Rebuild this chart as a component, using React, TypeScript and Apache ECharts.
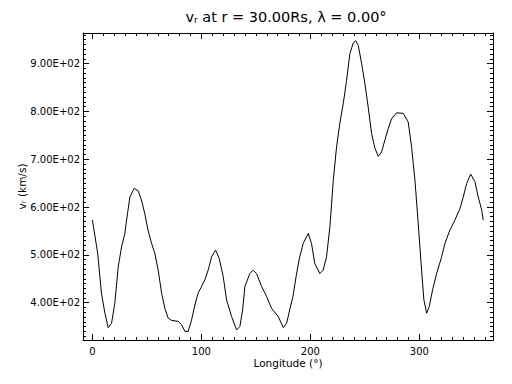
import React, { useEffect, useRef } from "react";
import * as echarts from "echarts";

// Longitude (deg) and radial speed v_r (km/s)
const longitude = [
  0, 4.9, 8.3, 11.5, 14.5, 17.6, 20.6, 23.7, 26.8, 29.8, 31.4, 34.4, 38.3, 42, 45, 48, 51, 54.3, 57.3,
  60.4, 63.5, 66.5, 69.5, 72.6, 78.7, 81.8, 84.9, 87.9, 91, 94, 97, 100.2, 103.2, 106.2, 109.4, 113,
  116.3, 120, 123.1, 127.7, 132.3, 135.3, 137.8, 139.9, 144.5, 147.5, 150.6, 155.2, 159.8, 164.4,
  170.5, 175.1, 178.2, 181.5, 184, 186.9, 190, 193.4, 198, 201, 204, 208.7, 211.7, 214.8, 217.9, 221,
  224, 227, 230.1, 233.2, 236.2, 239.3, 241.5, 243.9, 247, 250, 253, 256.1, 259.2, 262.2, 265.3,
  268.3, 271.4, 274.5, 279, 285.1, 289.7, 292.8, 295.9, 298.9, 302, 304.1, 306.6, 309, 312.1, 315.8,
  320.4, 323.4, 328, 332.6, 337.2, 340.2, 343.3, 347, 350.9, 354, 357.1, 358.5,
];
const vr = [
  573, 503, 420, 378, 348, 357, 399, 475, 517, 545, 573, 621, 639, 634, 615, 587, 552, 524, 503,
  468, 420, 388, 368, 363, 361, 354, 340, 340, 364, 395, 420, 434, 448, 468, 496, 510,
  493, 455, 406, 371, 343, 350, 385, 434, 461, 468, 461, 434, 413, 388,
  371, 348, 357, 390, 413, 455, 494, 524, 545, 524, 482, 461, 468, 496, 559, 656,
  726, 775, 816, 865, 921, 943, 948, 938, 900, 858, 809, 754, 723, 706, 715,
  740, 764, 785, 797, 796, 778, 726, 656, 566, 468, 406, 378, 392, 427, 461,
  496, 524, 552, 573, 597, 621, 649, 669, 653, 621, 594, 573,
];

const xMajorTicks = [0, 100, 200, 300];
const yMajorTicks = [400, 500, 600, 700, 800, 900];

const X_MIN = -8.6;
const X_MAX = 367.5;
const Y_MIN = 322;
const Y_MAX = 964;

const xMinorTicks: number[] = [];
for (let v = 0; v <= 360; v += 10) xMinorTicks.push(v);
const yMinorTicks: number[] = [];
for (let v = 330; v <= 960; v += 10) yMinorTicks.push(v);

const FONT = "DejaVu Sans";

function expFormat(v: number): string {
  const [m, e] = v.toExponential(2).split("e");
  const n = parseInt(e, 10);
  return m + "E" + (n < 0 ? "-" : "+") + String(Math.abs(n)).padStart(2, "0");
}

const lineStyle = { color: "#000", width: 1 };

function xAxis(position: "bottom" | "top", major: boolean, extra: any = {}) {
  return {
    type: "value",
    position,
    min: X_MIN,
    max: X_MAX,
    splitLine: { show: false },
    axisLine: { show: major, onZero: false, lineStyle },
    axisTick: {
      show: true,
      inside: true,
      length: major ? 6 : 3,
      customValues: major ? xMajorTicks : xMinorTicks,
      lineStyle,
    },
    axisLabel: { show: false },
    ...extra,
  };
}

function yAxis(position: "left" | "right", major: boolean, extra: any = {}) {
  return {
    type: "value",
    position,
    min: Y_MIN,
    max: Y_MAX,
    splitLine: { show: false },
    axisLine: { show: major, onZero: false, lineStyle },
    axisTick: {
      show: true,
      inside: true,
      length: major ? 6 : 3,
      customValues: major ? yMajorTicks : yMinorTicks,
      lineStyle,
    },
    axisLabel: { show: false },
    ...extra,
  };
}

export default function App() {
  const ref = useRef<HTMLDivElement>(null);
  useEffect(() => {
    document.body.style.margin = "0";
    const chart = echarts.init(ref.current!, undefined, { renderer: "svg" });
    const data = longitude.map((x, i) => [x, vr[i]]);
    chart.setOption({
      animation: false,
      backgroundColor: "#fff",
      textStyle: { fontFamily: FONT },
      grid: { left: 83, right: 19, top: 33, bottom: 44, containLabel: false, outerBoundsMode: "none" },
      graphic: [
        {
          type: "text",
          x: 286,
          y: 9,
          style: {
            text: "v{sub|r} at r = 30.00Rs, λ = 0.00°",
            fontFamily: FONT,
            fontSize: 14.5,
            fill: "#000",
            align: "center",
            textAlign: "center",
            verticalAlign: "top",
            textVerticalAlign: "top",
            rich: {
              sub: { fontSize: 9, fontFamily: FONT, fill: "#000", verticalAlign: "bottom" },
            },
          },
        },
      ],
      xAxis: [
        xAxis("bottom", true, {
          axisLabel: {
            show: true,
            customValues: xMajorTicks,
            color: "#000",
            fontSize: 10,
            fontFamily: FONT,
            margin: 6,
          },
          name: "Longitude (°)",
          nameLocation: "middle",
          nameGap: 17,
          nameMoveOverlap: false,
          nameTextStyle: { color: "#000", fontSize: 10.5, fontFamily: FONT },
        }),
        xAxis("bottom", false),
        xAxis("top", true),
        xAxis("top", false),
      ],
      yAxis: [
        yAxis("left", true, {
          axisLabel: {
            show: true,
            customValues: yMajorTicks,
            color: "#000",
            fontSize: 10,
            fontFamily: FONT,
            margin: 3,
            formatter: (v: number) => expFormat(v),
          },
          name: "v{sub|r} (km/s)",
          nameLocation: "middle",
          nameGap: 56,
          nameMoveOverlap: false,
          nameTextStyle: {
            color: "#000",
            fontSize: 10.5,
            fontFamily: FONT,
            rich: { sub: { fontSize: 7, fontFamily: FONT, color: "#000", verticalAlign: "bottom" } },
          },
        }),
        yAxis("left", false),
        yAxis("right", true),
        yAxis("right", false),
      ],
      series: [
        {
          type: "line",
          xAxisIndex: 0,
          yAxisIndex: 0,
          data,
          showSymbol: false,
          symbol: "none",
          smooth: false,
          lineStyle: { color: "#000", width: 1 },
        },
      ],
    });
    return () => chart.dispose();
  }, []);
  return <div ref={ref} style={{ width: 512, height: 384, background: "#fff" }} />;
}
